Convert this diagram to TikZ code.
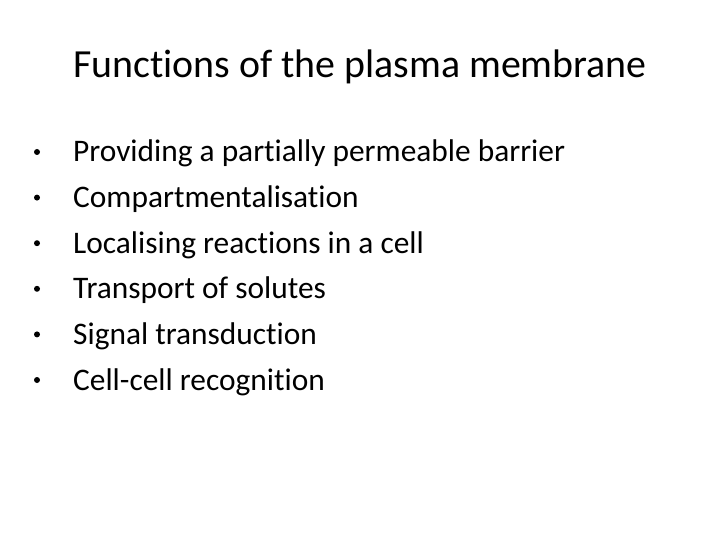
\documentclass[tikz,border=0pt]{standalone}
\usepackage{fontspec}
\setmainfont[Ligatures={NoCommon}]{Carlito}
\begin{document}
\begin{tikzpicture}[x=1bp,y=-1bp,
  item/.style={anchor=base west,inner sep=0pt,font=\fontsize{31.5}{34}\selectfont},
  dot/.style={circle,fill=black,inner sep=0pt,minimum size=6bp}]
\useasboundingbox[fill=white] (0,0) rectangle (720,540);
\node[anchor=base,inner sep=0pt,font=\fontsize{40}{44}\selectfont] (title) at (360,78) {Functions of the plasma membrane};
\foreach \t [count=\i] in {Providing a partially permeable barrier,Compartmentalisation,Localising reactions in a cell,Transport of solutes,Signal transduction,Cell-cell recognition}{
  \node[item] (i\i) at (73,{152+10+(\i-1)*45.6}) {\t};
  \node[dot] (b\i) at (37,{152+(\i-1)*45.6}) {};
}
\end{tikzpicture}
\end{document}
